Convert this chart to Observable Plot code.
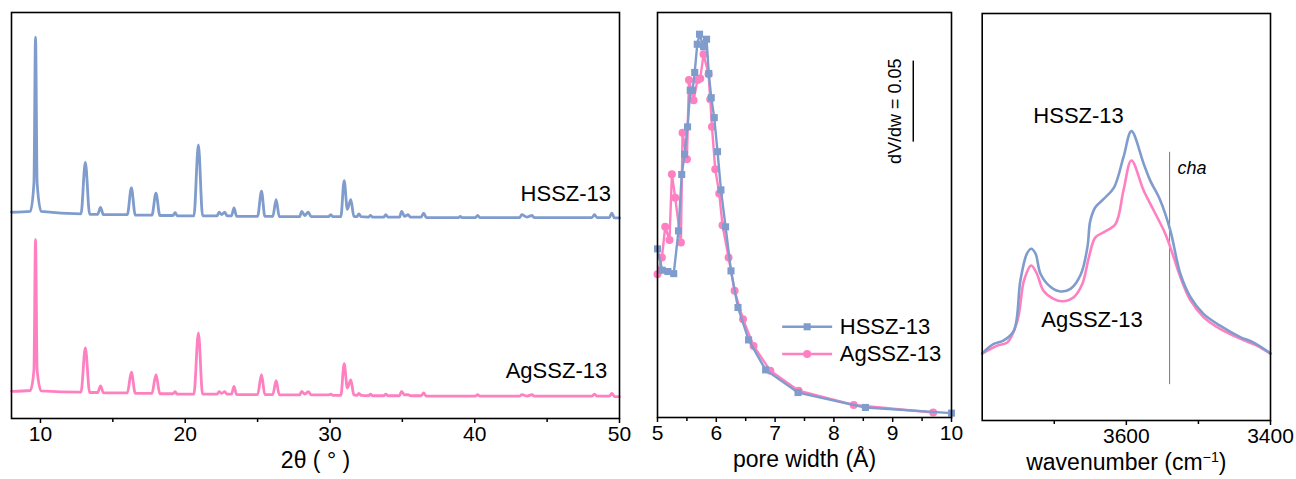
<!DOCTYPE html>
<html>
<head>
<meta charset="utf-8">
<script src="https://cdn.jsdelivr.net/npm/d3@7"></script>
<script src="https://cdn.jsdelivr.net/npm/@observablehq/plot@0.6"></script>
<style>
  html, body { margin: 0; padding: 0; background: white; }
  #wrap { position: relative; width: 1296px; height: 479px; overflow: hidden; }
  .panel { position: absolute; top: 0; }
</style>
</head>
<body>
<div id="wrap">
  <div class="panel" id="p1" style="left:0px"></div>
  <div class="panel" id="p2" style="left:640px"></div>
  <div class="panel" id="p3" style="left:966px"></div>
</div>
<script>
// ---------- colours / series names ----------
const BLUE = "#7f9ccc";
const PINK = "#ff80c0";
const seriesNames = ["HSSZ-13", "AgSSZ-13"];

// ---------- panel 1: XRD, [2θ, intensity (offset, a.u.)] ----------
const hsszXRD = [
  [8, 50.8], [9.3, 51.0], [9.55, 58], [9.66, 93.9], [9.77, 58], [10.05, 51.0],
  [12.8, 50.4], [13.1, 63.1], [13.4, 50.3],
  [13.95, 50.3], [14.15, 52.0], [14.35, 50.2],
  [16.0, 50.2], [16.28, 56.8], [16.55, 50.1],
  [17.7, 50.1], [17.98, 55.5], [18.25, 50.0],
  [19.15, 50.0], [19.3, 50.7], [19.45, 49.9],
  [20.6, 49.9], [20.91, 67.4], [21.2, 49.9],
  [22.2, 49.9], [22.34, 50.8], [22.52, 50.2], [22.73, 50.8], [22.9, 49.9],
  [23.2, 49.9], [23.37, 51.9], [23.55, 49.8],
  [25.0, 49.8], [25.27, 56.0], [25.5, 49.8],
  [26.05, 49.8], [26.28, 53.9], [26.5, 49.7],
  [27.9, 49.7], [28.05, 51.0], [28.25, 50.0], [28.5, 50.8], [28.7, 49.7],
  [29.9, 49.7], [30.06, 50.2], [30.2, 49.7],
  [30.75, 49.7], [30.98, 58.6], [31.2, 51.5], [31.44, 53.9], [31.65, 49.8],
  [31.85, 49.7], [32.0, 50.4], [32.15, 49.7],
  [32.65, 49.6], [32.8, 50.0], [32.95, 49.6],
  [33.7, 49.6], [33.86, 50.2], [34.0, 49.6],
  [34.8, 49.6], [34.95, 51.0], [35.15, 49.8], [35.4, 50.2], [35.55, 49.6],
  [36.3, 49.6], [36.47, 50.6], [36.65, 49.5],
  [38.9, 49.5], [39.0, 49.8], [39.1, 49.5],
  [40.05, 49.5], [40.2, 50.0], [40.35, 49.5],
  [43.1, 49.5], [43.25, 50.2], [43.6, 49.6], [43.96, 50.0], [44.1, 49.5],
  [48.1, 49.5], [48.27, 50.2], [48.45, 49.5],
  [49.3, 49.5], [49.47, 50.6], [49.65, 49.4], [50, 49.4]
];
const agXRD = [
  [8, 6.7], [9.3, 6.9], [9.55, 12], [9.66, 44.1], [9.77, 12], [10.05, 6.8],
  [12.8, 6.5], [13.1, 17.4], [13.4, 6.4],
  [13.95, 6.4], [14.15, 8.0], [14.35, 6.3],
  [16.0, 6.3], [16.28, 11.4], [16.55, 6.2],
  [17.7, 6.2], [17.98, 10.8], [18.25, 6.1],
  [19.15, 6.1], [19.3, 6.6], [19.45, 6.0],
  [20.6, 6.0], [20.91, 21.1], [21.2, 6.0],
  [22.2, 6.0], [22.34, 6.6], [22.52, 6.2], [22.73, 6.6], [22.9, 6.0],
  [23.2, 6.0], [23.37, 7.9], [23.55, 5.9],
  [25.0, 5.9], [25.27, 10.8], [25.5, 5.9],
  [26.05, 5.9], [26.28, 9.3], [26.5, 5.8],
  [27.9, 5.8], [28.05, 6.7], [28.25, 6.0], [28.5, 6.6], [28.7, 5.8],
  [29.9, 5.8], [30.06, 6.0], [30.2, 5.7],
  [30.75, 5.7], [30.98, 13.5], [31.2, 7.5], [31.44, 9.5], [31.65, 5.8],
  [31.85, 5.7], [32.0, 6.2], [32.15, 5.7],
  [32.65, 5.6], [32.8, 6.0], [32.95, 5.6],
  [33.7, 5.6], [33.86, 6.0], [34.0, 5.6],
  [34.8, 5.6], [34.95, 6.7], [35.15, 5.8], [35.4, 5.9], [35.55, 5.6],
  [36.3, 5.6], [36.47, 6.3], [36.65, 5.5],
  [40.05, 5.5], [40.2, 5.9], [40.35, 5.5],
  [43.1, 5.5], [43.25, 5.9], [43.6, 5.5], [43.96, 5.9], [44.1, 5.5],
  [48.1, 5.5], [48.27, 6.0], [48.45, 5.5],
  [49.3, 5.5], [49.47, 6.2], [49.65, 5.4], [50, 5.4]
];
const xrdTicks = [10, 20, 30, 40, 50];
const xrdMinor = [15, 25, 35, 45];

// ---------- panel 2: pore size distribution [pore width Å, dV/dw] ----------
const hsszPSD = [
  [5.00, 0.1041], [5.08, 0.0909], [5.177, 0.0901], [5.276, 0.0888], [5.357, 0.1152],
  [5.412, 0.1500], [5.46, 0.1625], [5.511, 0.1794], [5.557, 0.2020], [5.596, 0.2020],
  [5.633, 0.2130], [5.676, 0.2304], [5.715, 0.2366], [5.783, 0.2289], [5.834, 0.2335],
  [5.872, 0.2124], [5.914, 0.1974], [5.965, 0.1851], [6.021, 0.1641], [6.079, 0.1405],
  [6.158, 0.1177], [6.250, 0.0905], [6.369, 0.0679], [6.549, 0.0479], [6.839, 0.0294],
  [7.390, 0.0154], [8.536, 0.0062], [10.0, 0.0027]
];
const agPSD = [
  [5.00, 0.0885], [5.075, 0.0987], [5.131, 0.1177], [5.204, 0.1095], [5.245, 0.1502],
  [5.301, 0.1357], [5.398, 0.1080], [5.426, 0.1758], [5.50, 0.1594], [5.535, 0.2084],
  [5.613, 0.1958], [5.681, 0.2084], [5.727, 0.2092], [5.783, 0.2242], [5.868, 0.2119],
  [5.897, 0.1965], [5.926, 0.1794], [5.982, 0.1533], [6.050, 0.1382], [6.106, 0.1187],
  [6.209, 0.0987], [6.311, 0.0782], [6.454, 0.0607], [6.634, 0.0442], [6.919, 0.0288],
  [7.40, 0.0165], [8.337, 0.0077], [9.689, 0.0031]
];
const psdTicks = [5, 6, 7, 8, 9, 10];
const psdMinor = [5.5, 6.5, 7.5, 8.5, 9.5];
const scaleBar = {x: 9.35, y1: 0.17, y2: 0.22, textX: 9.05, label: "dV/dw = 0.05"};
const legendPos = {x1: 7.12, x2: 7.97, xm: 7.545, xt: 8.10, y: [0.056, 0.0392]};

// ---------- panel 3: FTIR [wavenumber cm-1, absorbance a.u.] ----------
const hsszIR = [
  [3800, 0.165], [3784, 0.188], [3770, 0.197], [3756, 0.221], [3747, 0.344],
  [3738, 0.410], [3732, 0.422], [3726, 0.410], [3719, 0.360], [3705, 0.328],
  [3691, 0.317], [3677, 0.324], [3663, 0.360], [3654, 0.426], [3650, 0.491],
  [3643, 0.524], [3631, 0.545], [3617, 0.573], [3604, 0.647], [3593, 0.711],
  [3576, 0.631], [3567, 0.590], [3553, 0.541], [3539, 0.467], [3525, 0.360],
  [3511, 0.303], [3493, 0.262], [3470, 0.233], [3442, 0.205], [3424, 0.192],
  [3400, 0.165]
];
const agIR = [
  [3800, 0.164], [3779, 0.184], [3765, 0.192], [3751, 0.246], [3742, 0.344],
  [3732, 0.381], [3724, 0.360], [3715, 0.319], [3701, 0.299], [3689, 0.293],
  [3673, 0.303], [3661, 0.336], [3652, 0.401], [3643, 0.450], [3631, 0.463],
  [3615, 0.483], [3604, 0.565], [3593, 0.639], [3576, 0.565], [3562, 0.516],
  [3546, 0.459], [3536, 0.410], [3525, 0.352], [3511, 0.295], [3493, 0.254],
  [3470, 0.225], [3437, 0.197], [3419, 0.184], [3400, 0.164]
];
const irTicks = [3600, 3400];
const irMinor = [3700, 3500];
const chaLine = {x: 3540, y1: 0.088, y2: 0.659, label: "cha"};

// ---------- common ----------
const FONT = "'Liberation Sans', Arial, Helvetica, sans-serif";
const style = {fontFamily: FONT, background: "transparent", overflow: "visible", color: "black"};
const px = d => d[0], py = d => d[1];

function axes(major, minor) {
  return [
    Plot.frame({stroke: "black", strokeWidth: 1.6}),
    Plot.axisX({ticks: major, tickSize: 5, tickPadding: 3, fontSize: 21, label: null, strokeWidth: 1.5, tickFormat: "d"}),
    Plot.axisX({ticks: minor, tickSize: 4, tickFormat: () => "", label: null, strokeWidth: 1.5})
  ];
}
function title(t) {
  return Plot.text([t], {frameAnchor: "bottom", dy: 49, fontSize: 23, fill: "black"});
}

// Panel 1
const p1 = Plot.plot({
  width: 630, height: 479,
  marginLeft: 11, marginRight: 11, marginTop: 12, marginBottom: 61,
  x: {domain: [8, 50], axis: null},
  y: {domain: [0, 100], axis: null},
  style,
  marks: [
    Plot.line(agXRD, {x: px, y: py, stroke: PINK, strokeWidth: 2.8, strokeLinejoin: "round", curve: "monotone-x"}),
    Plot.line(hsszXRD, {x: px, y: py, stroke: BLUE, strokeWidth: 2.8, strokeLinejoin: "round", curve: "monotone-x"}),
    Plot.text([seriesNames[0]], {x: 49.42, y: 55.4, textAnchor: "end", fontSize: 22, fill: "black"}),
    Plot.text([seriesNames[1]], {x: 49.15, y: 11.65, textAnchor: "end", fontSize: 22, fill: "black"}),
    ...axes(xrdTicks, xrdMinor),
    title("2θ ( ° )")
  ]
});
document.getElementById("p1").append(p1);

// Panel 2
const legendRows = seriesNames.map((n, i) => ({name: n, y: legendPos.y[i], color: i === 0 ? BLUE : PINK, symbol: i === 0 ? "square" : "circle"}));
const p2 = Plot.plot({
  width: 330, height: 479,
  marginLeft: 17, marginRight: 19, marginTop: 12, marginBottom: 62,
  x: {domain: [5, 10], axis: null},
  y: {domain: [0, 0.25], axis: null},
  style,
  marks: [
    Plot.line(agPSD, {x: px, y: py, stroke: PINK, strokeWidth: 2.4, strokeLinejoin: "round"}),
    Plot.dot(agPSD, {x: px, y: py, fill: PINK, r: 4, symbol: "circle"}),
    Plot.line(hsszPSD, {x: px, y: py, stroke: BLUE, strokeWidth: 2.4, strokeLinejoin: "round"}),
    Plot.dot(hsszPSD, {x: px, y: py, fill: BLUE, r: 4, symbol: "square"}),
    // scale bar
    Plot.ruleX([scaleBar.x], {y1: scaleBar.y1, y2: scaleBar.y2, stroke: "black", strokeWidth: 1.5}),
    Plot.text([scaleBar.label], {x: scaleBar.textX, y: (scaleBar.y1 + scaleBar.y2) / 2 - 0.006, rotate: -90, fontSize: 18, fill: "black"}),
    // legend
    Plot.link(legendRows, {x1: legendPos.x1, x2: legendPos.x2, y1: "y", y2: "y", stroke: "color", strokeWidth: 2.4}),
    Plot.dot(legendRows, {x: legendPos.xm, y: "y", fill: "color", symbol: "symbol", r: 4}),
    Plot.text(legendRows, {x: legendPos.xt, y: "y", text: "name", textAnchor: "start", fontSize: 22, fill: "black"}),
    ...axes(psdTicks, psdMinor),
    title("pore width (Å)")
  ]
});
document.getElementById("p2").append(p2);

// Panel 3
const IRLABEL = "wavenumber (cm-1)";
const p3 = Plot.plot({
  width: 330, height: 479,
  marginLeft: 15.7, marginRight: 26, marginTop: 13, marginBottom: 59,
  x: {domain: [3800, 3400], axis: null},
  y: {domain: [0, 1], axis: null},
  style,
  marks: [
    Plot.ruleX([chaLine.x], {y1: chaLine.y1, y2: chaLine.y2, stroke: "#777", strokeWidth: 1}),
    Plot.text([chaLine.label], {x: 3529, y: 0.619, textAnchor: "start", fontSize: 18, fontStyle: "italic", fill: "black"}),
    Plot.line(agIR, {x: px, y: py, stroke: PINK, strokeWidth: 2.6, curve: "catmull-rom"}),
    Plot.line(hsszIR, {x: px, y: py, stroke: BLUE, strokeWidth: 2.6, curve: "catmull-rom"}),
    Plot.text([seriesNames[0]], {x: 3729, y: 0.749, textAnchor: "start", fontSize: 22, fill: "black"}),
    Plot.text([seriesNames[1]], {x: 3718, y: 0.246, textAnchor: "start", fontSize: 22, fill: "black"}),
    ...axes(irTicks, irMinor),
    title(IRLABEL)
  ]
});
document.getElementById("p3").append(p3);
p3.querySelectorAll("text").forEach(t => {
  if (t.textContent === IRLABEL) {
    t.innerHTML = 'wavenumber (cm<tspan dy="-0.5em" font-size="0.62em">−1</tspan><tspan dy="0.31em">)</tspan>';
  }
});
</script>
</body>
</html>
